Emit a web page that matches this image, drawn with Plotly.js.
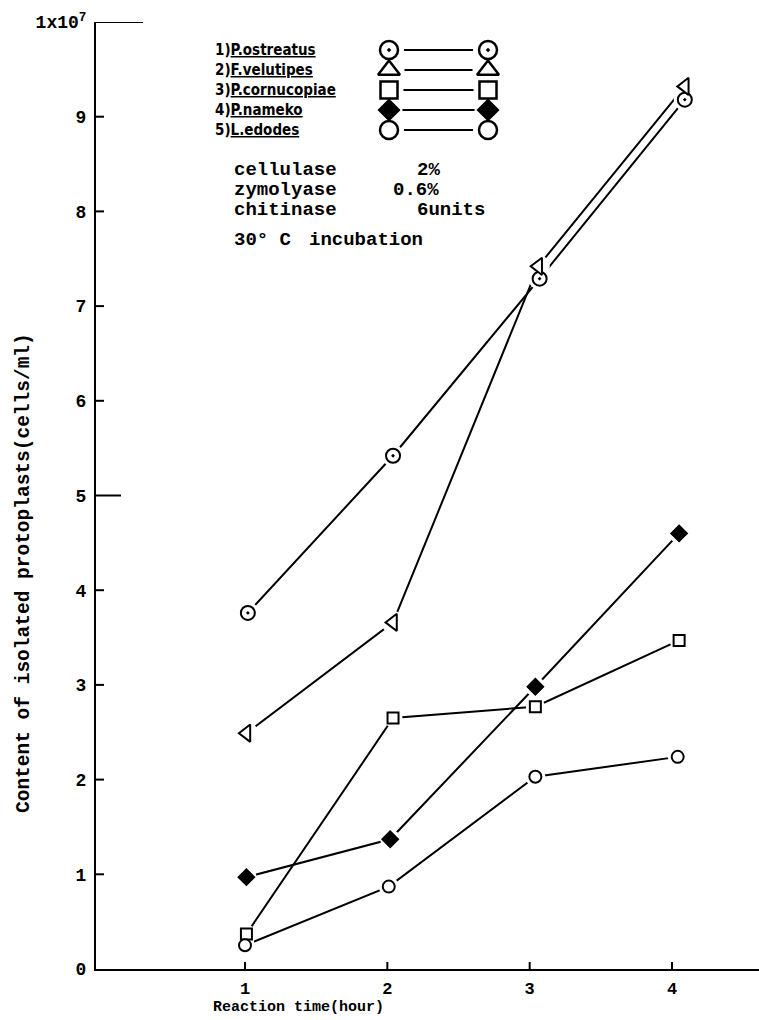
<!DOCTYPE html>
<html><head><meta charset="utf-8">
<script src="https://cdn.plot.ly/plotly-3.0.1.min.js"></script>
<style>html,body{margin:0;padding:0;background:#fff;} #chart{width:759px;height:1020px;}</style>
</head><body><div id="chart"></div>
<script>
// ---- data ----
const seriesNames = ['P.ostreatus', 'F.velutipes', 'P.cornucopiae', 'P.nameko', 'L.edodes'];
const ostreatusX   = [1.02, 2.04, 3.07, 4.09];
const ostreatusY   = [3.76, 5.42, 7.29, 9.18];
const velutipesX   = [1.01, 2.04, 3.06, 4.09];
const velutipesY   = [2.49, 3.66, 7.42, 9.32];
const cornucopiaeX = [1.01, 2.04, 3.04, 4.05];
const cornucopiaeY = [0.37, 2.65, 2.77, 3.47];
const namekoX      = [1.01, 2.02, 3.04, 4.05];
const namekoY      = [0.97, 1.37, 2.98, 4.60];
const edodesX      = [1.00, 2.01, 3.04, 4.04];
const edodesY      = [0.25, 0.87, 2.03, 2.24];
const xTickVals = [1, 2, 3, 4];
const xTickText = ['1', '2', '3', '4'];
const yTickVals = [0, 1, 2, 3, 4, 5, 6, 7, 8, 9, 10];
const yTickText = ['0', '1', '2', '3', '4', '5', '6', '7', '8', '9', '1x10<sup>7</sup>'];
const enzymeNames = ['cellulase', 'zymolyase', 'chitinase'];
const enzymeAmounts = ['2%', '0.6%', '6units'];

// ---- styling ----
const MONO = 'Liberation Mono, DejaVu Sans Mono, monospace';
const NARROW = 'Liberation Sans Narrow, DejaVu Sans Condensed, sans-serif';
const L = 96, T = 22, W = 663, H = 947; // plot area in px
const px = x => (x - L) / W;
const py = y => (T + H - y) / H;

const styles = [
  {sym: 'circle-dot', legSym: 'circle-dot', fill: 'white', size: 14, legSize: 18},
  {sym: 'triangle-left', legSym: 'triangle-up', fill: 'white', size: 15, legSize: 19},
  {sym: 'square', legSym: 'square', fill: 'white', size: 11, legSize: 17},
  {sym: 'diamond', legSym: 'diamond', fill: 'black', size: 12, legSize: 15},
  {sym: 'circle', legSym: 'circle', fill: 'white', size: 12, legSize: 18}
];
const xs = [ostreatusX, velutipesX, cornucopiaeX, namekoX, edodesX];
const ys = [ostreatusY, velutipesY, cornucopiaeY, namekoY, edodesY];
const legX = [0, 1];

const traces = [];
// 1) lines
seriesNames.forEach((name, i) => {
  traces.push({type: 'scatter', mode: 'lines', name: name, x: xs[i], y: ys[i],
    cliponaxis: false, showlegend: false, line: {color: 'black', width: 2}});
  traces.push({type: 'scatter', mode: 'lines', xaxis: 'x2', yaxis: 'y2',
    x: legX, y: legX.map(() => i + 1), cliponaxis: false, showlegend: false,
    line: {color: 'black', width: 2}});
});
// 2) white halos that leave a small gap between line and symbol
seriesNames.forEach((name, i) => {
  traces.push({type: 'scatter', mode: 'markers', x: xs[i], y: ys[i],
    cliponaxis: false, showlegend: false,
    marker: {symbol: 'circle', size: styles[i].size + 8, color: 'white', line: {width: 0}}});
  traces.push({type: 'scatter', mode: 'markers', xaxis: 'x2', yaxis: 'y2',
    x: legX, y: legX.map(() => i + 1), cliponaxis: false, showlegend: false,
    marker: {symbol: 'circle', size: styles[i].legSize + 12, color: 'white', line: {width: 0}}});
});
// 3) symbols
seriesNames.forEach((name, i) => {
  traces.push({type: 'scatter', mode: 'markers', name: name, x: xs[i], y: ys[i],
    cliponaxis: false, showlegend: false,
    marker: {symbol: styles[i].sym, size: styles[i].size, color: styles[i].fill,
             line: {color: 'black', width: 2}}});
  traces.push({type: 'scatter', mode: 'markers', xaxis: 'x2', yaxis: 'y2',
    x: legX, y: legX.map(() => i + 1), cliponaxis: false, showlegend: false,
    marker: {symbol: styles[i].legSym, size: styles[i].legSize, color: styles[i].fill,
             line: {color: 'black', width: 2.5}}});
});

const annotations = [];
const legRowY = [50, 70, 90, 110, 130];
seriesNames.forEach((name, i) => {
  annotations.push({xref: 'paper', yref: 'paper', x: px(213), y: py(legRowY[i]),
    xanchor: 'left', yanchor: 'middle', showarrow: false,
    text: (i + 1) + ')<u>' + name + '</u>',
    font: {family: NARROW, size: 15, color: 'black', weight: 'bold'}});
});
const enzRowY = [170, 190, 210];
const amountX = [415, 391, 415];
enzymeNames.forEach((n, i) => {
  annotations.push({xref: 'paper', yref: 'paper', x: px(232), y: py(enzRowY[i]),
    xanchor: 'left', yanchor: 'middle', showarrow: false, text: n,
    font: {family: MONO, size: 19, color: 'black', weight: 'bold'}});
  annotations.push({xref: 'paper', yref: 'paper', x: px(amountX[i]), y: py(enzRowY[i]),
    xanchor: 'left', yanchor: 'middle', showarrow: false, text: enzymeAmounts[i],
    font: {family: MONO, size: 19, color: 'black', weight: 'bold'}});
});
annotations.push({xref: 'paper', yref: 'paper', x: px(232), y: py(240),
  xanchor: 'left', yanchor: 'middle', showarrow: false, text: '30°\u00a0C',
  font: {family: MONO, size: 19, color: 'black', weight: 'bold'}});
annotations.push({xref: 'paper', yref: 'paper', x: px(307), y: py(240),
  xanchor: 'left', yanchor: 'middle', showarrow: false, text: 'incubation',
  font: {family: MONO, size: 19, color: 'black', weight: 'bold'}});
// axis titles
annotations.push({xref: 'paper', yref: 'paper', x: px(298), y: py(1008),
  xanchor: 'center', yanchor: 'middle', showarrow: false, text: 'Reaction time(hour)',
  font: {family: MONO, size: 15, color: 'black', weight: 'bold'}});
annotations.push({xref: 'paper', yref: 'paper', x: px(24), y: py(573),
  xanchor: 'center', yanchor: 'middle', showarrow: false, textangle: -90,
  text: 'Content of isolated protoplasts(cells/ml)',
  font: {family: MONO, size: 19.5, color: 'black', weight: 'bold'}});

// tick marks drawn from the tick arrays, plus the long marks at 5 and 10
const shapes = [];
yTickVals.forEach(v => {
  if (v === 0) return;
  const len = v === 10 ? 47 : (v === 5 ? 25 : 8);
  shapes.push({type: 'line', xref: 'paper', yref: 'y', x0: 0, x1: len / W, y0: v, y1: v,
    line: {color: 'black', width: 2}});
});
xTickVals.forEach(v => {
  shapes.push({type: 'line', xref: 'x', yref: 'paper', x0: v, x1: v, y0: 0, y1: 7 / H,
    line: {color: 'black', width: 2}});
});

const layout = {
  width: 759, height: 1020,
  margin: {l: L, r: 0, t: T, b: 1020 - T - H},
  paper_bgcolor: 'white', plot_bgcolor: 'white',
  showlegend: false,
  xaxis: {range: [1 - (245 - L) / 142.33, 4 + (759 - 672) / 142.33],
    showgrid: false, zeroline: false, showline: true, linecolor: 'black', linewidth: 2,
    tickmode: 'array', tickvals: xTickVals, ticktext: xTickText,
    ticks: '', ticklabelstandoff: 3,
    tickfont: {family: MONO, size: 17, color: 'black', weight: 'bold'}},
  yaxis: {range: [0, 10],
    showgrid: false, zeroline: false, showline: true, linecolor: 'black', linewidth: 2,
    tickmode: 'array', tickvals: yTickVals, ticktext: yTickText,
    ticks: '', ticklabelstandoff: 4,
    tickfont: {family: MONO, size: 18, color: 'black', weight: 'bold'}},
  xaxis2: {domain: [px(389), px(488)], range: [0, 1], visible: false, anchor: 'y2'},
  yaxis2: {domain: [py(140), py(40)], range: [5.5, 0.5], visible: false, anchor: 'x2'},
  annotations: annotations,
  shapes: shapes
};

Plotly.newPlot('chart', traces, layout, {staticPlot: true, displayModeBar: false});
</script>
</body></html>
